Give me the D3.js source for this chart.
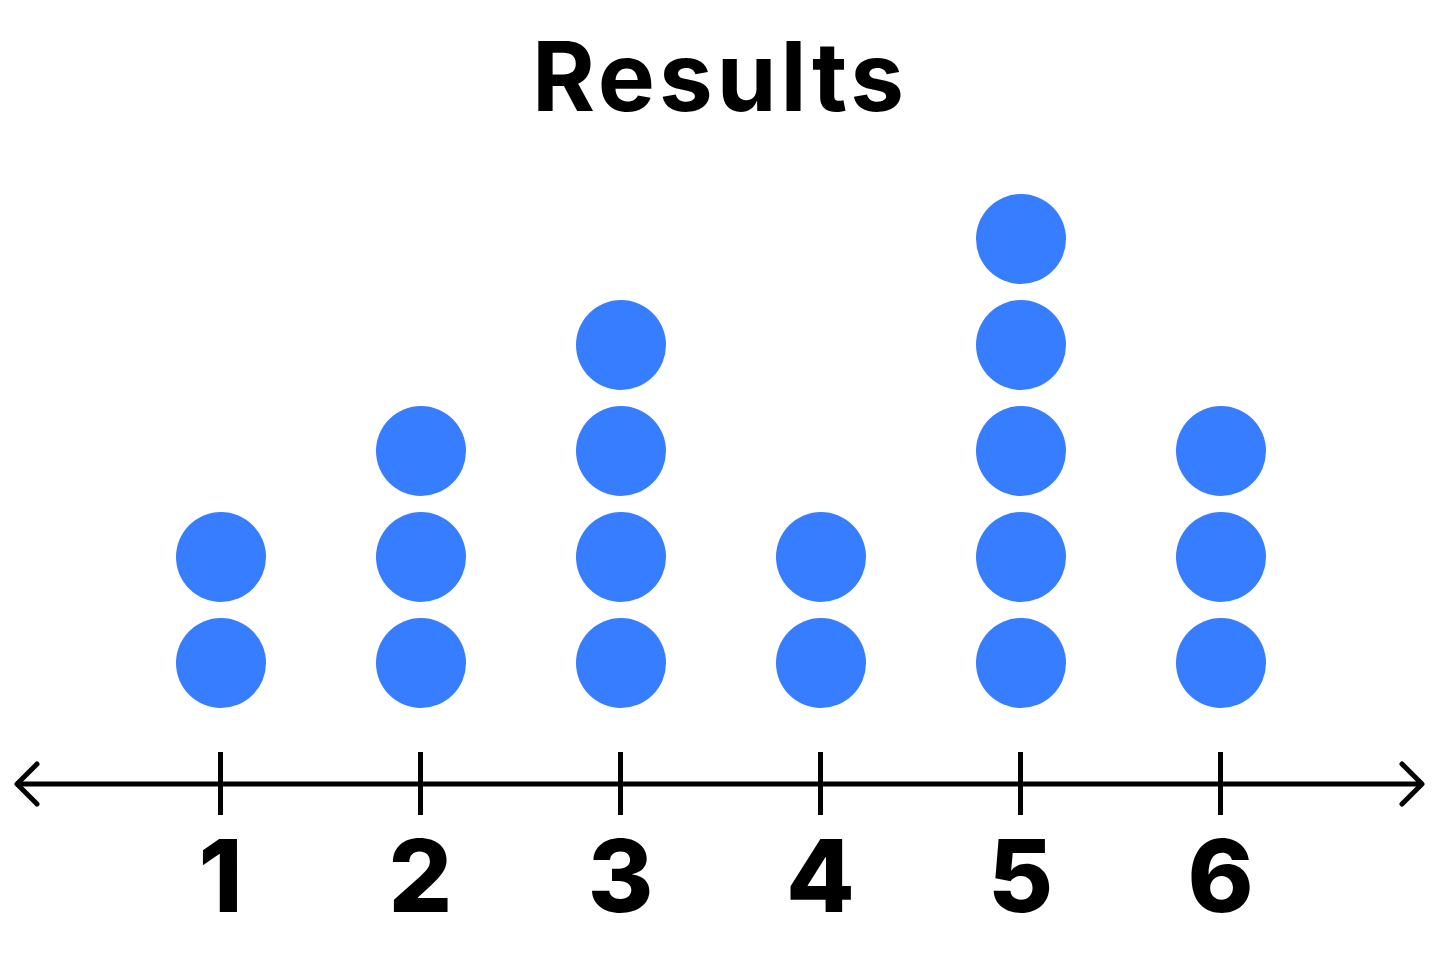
<!DOCTYPE html>
<html>
<head>
<meta charset="utf-8">
<script src="https://cdn.jsdelivr.net/npm/d3@7"></script>
<style>
  html, body { margin: 0; padding: 0; background: #fff; }
  svg { display: block; }
</style>
</head>
<body>
<svg id="chart" width="1440" height="954"></svg>
<script>
const title = "Results";
const categories = [1, 2, 3, 4, 5, 6];
const counts = [2, 3, 4, 2, 5, 3];
const tickLabels = ["1", "2", "3", "4", "5", "6"];

const svg = d3.select("#chart");
const W = 1440, H = 954;
const axisY = 784;

const x = d3.scaleLinear().domain([1, 6]).range([220, 1220]);
const y = d3.scaleLinear().domain([0, 5]).range([769, 239]);

// title
svg.append("text")
  .attr("x", 720).attr("y", 111)
  .attr("text-anchor", "middle")
  .attr("font-family", "Inter, sans-serif")
  .attr("font-weight", 700)
  .attr("font-size", 96)
  .attr("letter-spacing", 4)
  .attr("fill", "#000")
  .text(title);

// dots
const dots = [];
categories.forEach((c, i) => {
  for (let k = 1; k <= counts[i]; k++) dots.push({ c, k });
});
svg.append("g").selectAll("circle").data(dots).join("circle")
  .attr("cx", d => x(d.c) + 1)
  .attr("cy", d => y(d.k))
  .attr("r", 45)
  .attr("fill", "#377DFF");

// axis
const axis = d3.axisBottom(x)
  .tickValues(categories)
  .tickFormat((d, i) => tickLabels[i])
  .tickSizeInner(31)
  .tickSizeOuter(0)
  .tickPadding(0);

const g = svg.append("g").attr("transform", `translate(0,${axisY})`).call(axis);
g.select(".domain").remove();
g.selectAll(".tick line")
  .attr("y1", -32).attr("y2", 31)
  .attr("stroke", "#000").attr("stroke-width", 5);
g.selectAll(".tick text")
  .attr("y", 128).attr("dy", null)
  .attr("font-family", "Inter, sans-serif")
  .attr("font-weight", 800)
  .attr("font-size", 100)
  .attr("fill", "#000");

// main line with arrows
const x0 = 17, x1 = 1422, ah = 20;
svg.append("line")
  .attr("x1", x0 + 2).attr("x2", x1 - 2)
  .attr("y1", axisY).attr("y2", axisY)
  .attr("stroke", "#000").attr("stroke-width", 5);
svg.append("path")
  .attr("d", `M${x0 + ah},${axisY - ah} L${x0},${axisY} L${x0 + ah},${axisY + ah}`)
  .attr("fill", "none").attr("stroke", "#000").attr("stroke-width", 5)
  .attr("stroke-linecap", "round").attr("stroke-linejoin", "round");
svg.append("path")
  .attr("d", `M${x1 - ah},${axisY - ah} L${x1},${axisY} L${x1 - ah},${axisY + ah}`)
  .attr("fill", "none").attr("stroke", "#000").attr("stroke-width", 5)
  .attr("stroke-linecap", "round").attr("stroke-linejoin", "round");
</script>
</body>
</html>
